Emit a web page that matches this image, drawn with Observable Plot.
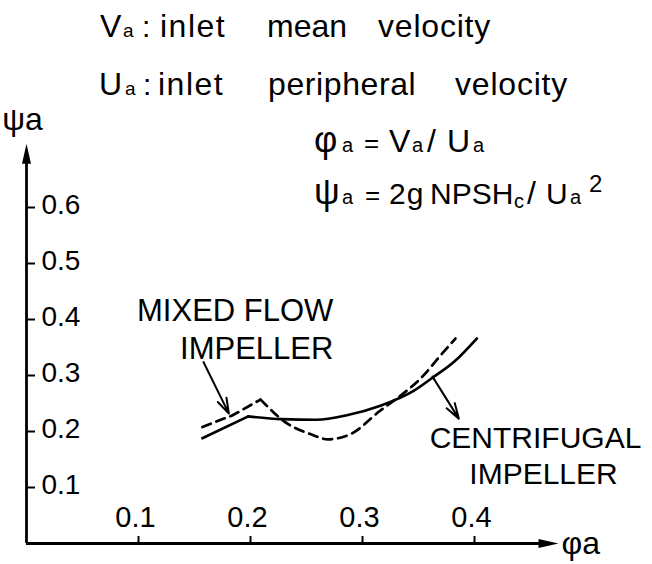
<!DOCTYPE html>
<html><head><meta charset="utf-8">
<script src="https://cdn.jsdelivr.net/npm/d3@7"></script>
<script src="https://cdn.jsdelivr.net/npm/@observablehq/plot@0.6"></script>
<style>
body{margin:0;background:#fff;}
#wrap{width:652px;height:564px;overflow:hidden;}
</style></head>
<body><div id="wrap"></div>
<script>
// ---- data ----
const xTicks = [0.1, 0.2, 0.3, 0.4];
const xTickLabels = ["0.1", "0.2", "0.3", "0.4"];
const yTicks = [0.1, 0.2, 0.3, 0.4, 0.5, 0.6];
const yTickLabels = ["0.1", "0.2", "0.3", "0.4", "0.5", "0.6"];

// centrifugal impeller (solid)
const centrifugalPhi = [0.157, 0.198, 0.228, 0.259, 0.286, 0.316, 0.346, 0.3625, 0.3815, 0.402];
const centrifugalPsi = [0.188, 0.227, 0.222, 0.221, 0.229, 0.246, 0.273, 0.296, 0.324, 0.366];
// mixed flow impeller (dashed)
const mixedPhi = [0.157, 0.184, 0.209, 0.233, 0.254, 0.269, 0.289, 0.316, 0.334, 0.352, 0.371, 0.383];
const mixedPsi = [0.208, 0.229, 0.257, 0.214, 0.195, 0.186, 0.195, 0.2375, 0.264, 0.295, 0.339, 0.366];

// annotation texts and leader arrows
const mixedLabel = ["MIXED FLOW", "IMPELLER"];
const centrifugalLabel = ["CENTRIFUGAL", "IMPELLER"];
const arrowFromPhi = [0.158, 0.3625];
const arrowFromPsi = [0.324, 0.298];
const arrowToPhi = [0.1807, 0.386];
const arrowToPsi = [0.232, 0.223];

// ---- build ----
const FONT = '"Liberation Sans", Arial, sans-serif';
function parts(phi, psi, k) {
  const a = [], b = [];
  phi.forEach((p, i) => {
    if (i <= k) a.push({phi: p, psi: psi[i]});
    if (i >= k) b.push({phi: p, psi: psi[i]});
  });
  return [a, b];
}
const [cA, cB] = parts(centrifugalPhi, centrifugalPsi, 1);
const [mA, mB] = parts(mixedPhi, mixedPsi, 2);

const headUp = {draw(c) { c.moveTo(0, 0); c.lineTo(-4.5, 20); c.lineTo(4.5, 20); c.closePath(); }};
const headRight = {draw(c) { c.moveTo(0, 0); c.lineTo(-20, -4.5); c.lineTo(-20, 4.5); c.closePath(); }};

const lineStyle = {x: "phi", y: "psi", stroke: "black", strokeWidth: 2.7};
const dashStyle = {...lineStyle, strokeDasharray: "9,6"};

const plot = Plot.plot({
  width: 652, height: 564,
  marginLeft: 26, marginRight: 66, marginTop: 151, marginBottom: 21,
  x: {domain: [0, 0.5], axis: null},
  y: {domain: [0, 0.7], axis: null},
  style: {fontFamily: FONT, background: "white", color: "black", overflow: "visible"},
  marks: [
    // axes with arrow heads
    Plot.ruleX([0], {x: 0, y1: 0, y2: 0.69, stroke: "black", strokeWidth: 2.8}),
    Plot.ruleY([0], {y: 0, x1: 0, x2: 0.46, stroke: "black", strokeWidth: 2.8}),
    Plot.dot([0], {x: 0, y: 0.714, symbol: headUp, r: 5, fill: "black", stroke: "none"}),
    Plot.dot([0], {x: 0.475, y: 0, symbol: headRight, r: 5, fill: "black", stroke: "none"}),
    // ticks pointing inward
    Plot.ruleY(yTicks, {y: d => d, x1: 0, x2: 0.008, stroke: "black", strokeWidth: 2}),
    Plot.ruleX(xTicks, {x: d => d, y1: 0, y2: 0.0125, stroke: "black", strokeWidth: 2}),
    Plot.text(yTicks, {x: 0, y: d => d, text: (d, i) => yTickLabels[i], textAnchor: "start",
      dx: 15, dy: -2, fontSize: 28, fill: "black", ariaLabel: "y-tick-labels"}),
    Plot.text(xTicks, {x: d => d, y: 0, text: (d, i) => xTickLabels[i], textAnchor: "middle",
      lineAnchor: "bottom", dx: -3, dy: -17, fontSize: 29, fill: "black", ariaLabel: "x-tick-labels"}),
    // axis names
    Plot.text(["ψa"], {x: 0, y: 0.714, text: d => d, textAnchor: "middle", lineAnchor: "bottom",
      dx: -4, dy: -14, fontSize: 32, fill: "black"}),
    Plot.text(["φa"], {x: 0.475, y: 0, text: d => d, textAnchor: "start", lineAnchor: "bottom",
      dx: 3, dy: 10, fontSize: 32, fill: "black"}),
    // curves
    Plot.line(cA, {...lineStyle, curve: "linear"}),
    Plot.line(cB, {...lineStyle, curve: "monotone-x"}),
    Plot.line(mA, {...dashStyle, curve: "linear"}),
    Plot.line(mB, {...dashStyle, curve: "monotone-x"}),
    // leader arrows
    Plot.arrow(arrowFromPhi, {x1: arrowFromPhi, y1: arrowFromPsi, x2: arrowToPhi, y2: arrowToPsi,
      stroke: "black", strokeWidth: 2, headLength: 12, headAngle: 35}),
    // labels
    Plot.text(mixedLabel, {x: 0.274, y: [0.398, 0.330], text: d => d, textAnchor: "end",
      lineAnchor: "bottom", fontSize: 31, fill: "black", ariaLabel: "labels"}),
    Plot.text(centrifugalLabel, {x: [0.4545, 0.4616], y: [0.170, 0.107], text: d => d, textAnchor: "middle",
      lineAnchor: "bottom", fontSize: 30, fill: "black", ariaLabel: "labels"})
  ]
});

document.getElementById("wrap").appendChild(plot);
const svg = d3.select(plot);
svg.selectAll('g[aria-label="y-tick-labels"] text').style("letter-spacing", "3px");
svg.selectAll('g[aria-label="labels"] text').style("letter-spacing", "1.2px");

// title and formula text (real SVG text with small subscripts)
const g = svg.append("g").attr("font-family", FONT).attr("fill", "black").attr("text-anchor", "start");
function put(x, y, str, size, ls) {
  const t = g.append("text").attr("x", x).attr("y", y).attr("font-size", size).text(str);
  if (ls) t.style("letter-spacing", ls + "px");
  return t;
}
// title line 1
put(100, 37, "V", 32); put(123, 37, "a", 19);
put(142, 37, ":", 30);
put(160, 37, "inlet", 32, 1.5);
put(267, 37, "mean", 32, 0);
put(378, 37, "velocity", 32, 0.8);
// title line 2
put(99, 95, "U", 32); put(125, 95, "a", 19);
put(143, 95, ":", 30);
put(158, 95, "inlet", 32, 1.5);
put(268, 95, "peripheral", 32, 0.6);
put(455, 95, "velocity", 32, 0.8);
// formula line 1
put(314, 152, "φ", 36); put(342, 152, "a", 20);
put(364, 152, "=", 26);
put(389, 152, "V", 32); put(412, 152, "a", 20);
put(427, 152, "/", 32);
put(447, 152, "U", 32); put(473, 152, "a", 20);
// formula line 2
put(314, 204, "ψ", 36); put(342, 204, "a", 20);
put(365, 204, "=", 26);
put(389, 204, "2g", 30, 1);
put(430, 204, "NPSH", 30);
put(514, 208, "c", 20);
put(527, 204, "/", 32);
put(546, 204, "U", 30); put(570, 204, "a", 20);
put(589, 192, "2", 24);
</script>
</body></html>
